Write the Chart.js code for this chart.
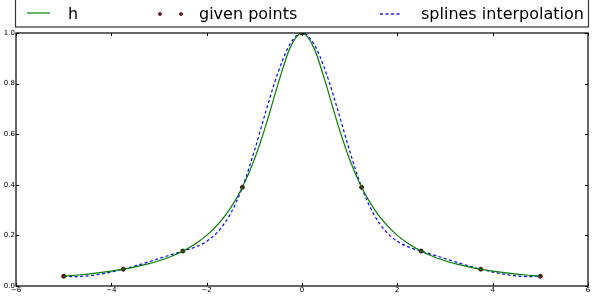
<!DOCTYPE html>
<html>
<head>
<meta charset="utf-8">
<script src="https://cdn.jsdelivr.net/npm/chart.js@4.4.1/dist/chart.umd.min.js"></script>
<style>
  html, body { margin: 0; padding: 0; background: #fff; }
  #wrap { position: relative; width: 597px; height: 302px; }
</style>
</head>
<body>
<div id="wrap"><canvas id="chart" width="597" height="302"></canvas></div>
<script>
// sample positions along x
const xs = [-5, -4.75, -4.5, -4.25, -4, -3.75, -3.5, -3.25, -3, -2.75, -2.5, -2.25, -2, -1.75, -1.5, -1.25, -1, -0.75, -0.5, -0.25,
  0, 0.25, 0.5, 0.75, 1, 1.25, 1.5, 1.75, 2, 2.25, 2.5, 2.75, 3, 3.25, 3.5, 3.75, 4, 4.25, 4.5, 4.75, 5];

// green curve "h"
const hValues = [0.0385, 0.0425, 0.0471, 0.0525, 0.0588, 0.0664, 0.0755, 0.0865, 0.1, 0.1168, 0.1379, 0.1649, 0.2, 0.2462, 0.3077, 0.3902, 0.5, 0.64, 0.8, 0.9412,
  1.0, 0.9412, 0.8, 0.64, 0.5, 0.3902, 0.3077, 0.2462, 0.2, 0.1649, 0.1379, 0.1168, 0.1, 0.0865, 0.0755, 0.0664, 0.0588, 0.0525, 0.0471, 0.0425, 0.0385];

// blue dashed curve "splines interpolation"
const splineValues = [0.0385, 0.0372, 0.0400, 0.0461, 0.0551, 0.0664, 0.0794, 0.0936, 0.1085, 0.1234, 0.1379, 0.1530, 0.1765, 0.2176, 0.2857, 0.3902, 0.5342, 0.6954, 0.8457, 0.9567,
  1.0, 0.9567, 0.8457, 0.6954, 0.5342, 0.3902, 0.2857, 0.2176, 0.1765, 0.1530, 0.1379, 0.1234, 0.1085, 0.0936, 0.0794, 0.0664, 0.0551, 0.0461, 0.0400, 0.0372, 0.0385];

// "given points"
const givenX = [-5, -3.75, -2.5, -1.25, 0, 1.25, 2.5, 3.75, 5];
const givenY = [0.0385, 0.0664, 0.1379, 0.3902, 1.0, 0.3902, 0.1379, 0.0664, 0.0385];

const xTicks = [-6, -4, -2, 0, 2, 4, 6];
const yTicks = [0, 0.2, 0.4, 0.6, 0.8, 1.0];

const toPts = (xa, ya) => xa.map((x, i) => ({ x: x, y: ya[i] }));

// matplotlib-like frame, inward ticks and the boxed legend
const framePlugin = {
  id: 'frame',
  afterDraw(chart) {
    const ctx = chart.ctx;
    const a = chart.chartArea;
    const sx = chart.scales.x, sy = chart.scales.y;
    ctx.save();
    ctx.strokeStyle = '#000';
    ctx.lineWidth = 1.2;
    ctx.strokeRect(a.left, a.top, a.right - a.left, a.bottom - a.top);
    ctx.lineWidth = 1;
    ctx.beginPath();
    xTicks.forEach(v => {
      const px = Math.round(sx.getPixelForValue(v)) + 0.5;
      ctx.moveTo(px, a.bottom); ctx.lineTo(px, a.bottom - 3);
      ctx.moveTo(px, a.top); ctx.lineTo(px, a.top + 3);
    });
    yTicks.forEach(v => {
      const py = Math.round(sy.getPixelForValue(v)) + 0.5;
      ctx.moveTo(a.left, py); ctx.lineTo(a.left + 3, py);
      ctx.moveTo(a.right, py); ctx.lineTo(a.right - 3, py);
    });
    ctx.stroke();

    // legend
    ctx.lineWidth = 1.2;
    ctx.strokeStyle = '#333';
    ctx.strokeRect(15.5, -5, 573, 32);
    ctx.font = '16px "DejaVu Sans"';
    ctx.fillStyle = '#000';
    ctx.textBaseline = 'alphabetic';
    ctx.fillText('h', 68, 18.5);
    ctx.fillText('given points', 199, 18.5);
    ctx.fillText('splines interpolation', 421, 18.5);
    ctx.strokeStyle = '#008000';
    ctx.lineWidth = 1.2;
    ctx.beginPath(); ctx.moveTo(27, 13); ctx.lineTo(50, 13); ctx.stroke();
    ctx.strokeStyle = '#1a1aff';
    ctx.lineWidth = 1.4;
    ctx.setLineDash([3, 2.5]);
    ctx.beginPath(); ctx.moveTo(380, 14); ctx.lineTo(401, 14); ctx.stroke();
    ctx.setLineDash([]);
    [160, 181].forEach(cx => {
      ctx.beginPath();
      ctx.arc(cx, 14, 1.6, 0, Math.PI * 2);
      ctx.fillStyle = '#c00000';
      ctx.fill();
      ctx.strokeStyle = '#000';
      ctx.lineWidth = 0.6;
      ctx.stroke();
    });
    ctx.restore();
  }
};

new Chart(document.getElementById('chart').getContext('2d'), {
  type: 'scatter',
  data: {
    datasets: [
      {
        label: 'h',
        data: toPts(xs, hValues),
        showLine: true,
        borderColor: '#008000',
        borderWidth: 1.2,
        pointRadius: 0,
        cubicInterpolationMode: 'monotone'
      },
      {
        label: 'given points',
        data: toPts(givenX, givenY),
        showLine: false,
        pointRadius: 2,
        pointBackgroundColor: '#a00000',
        pointBorderColor: '#000',
        pointBorderWidth: 0.8
      },
      {
        label: 'splines interpolation',
        data: toPts(xs, splineValues),
        showLine: true,
        borderColor: '#0000ff',
        borderWidth: 1.2,
        borderDash: [3, 2.5],
        pointRadius: 0,
        cubicInterpolationMode: 'monotone'
      }
    ]
  },
  options: {
    responsive: false,
    animation: false,
    events: [],
    layout: { padding: { top: 33, right: 9, left: 0, bottom: 0 } },
    plugins: {
      legend: { display: false },
      tooltip: { enabled: false }
    },
    scales: {
      x: {
        type: 'linear',
        min: -6,
        max: 6,
        afterFit: s => { s.height = 16; },
        afterBuildTicks: s => { s.ticks = xTicks.map(v => ({ value: v })); },
        grid: { display: false, drawTicks: false },
        border: { display: false },
        ticks: {
          padding: 0,
          color: '#000',
          font: { family: 'DejaVu Sans', size: 7 },
          maxRotation: 0,
          autoSkip: false,
          callback: v => String(v).replace('-', '\u2212')
        }
      },
      y: {
        type: 'linear',
        min: 0,
        max: 1,
        afterFit: s => { s.width = 16; },
        afterBuildTicks: s => { s.ticks = yTicks.map(v => ({ value: v })); },
        grid: { display: false, drawTicks: false },
        border: { display: false },
        ticks: {
          padding: 1,
          color: '#000',
          font: { family: 'DejaVu Sans', size: 7 },
          autoSkip: false,
          callback: v => v.toFixed(1)
        }
      }
    }
  },
  plugins: [framePlugin]
});
</script>
</body>
</html>
